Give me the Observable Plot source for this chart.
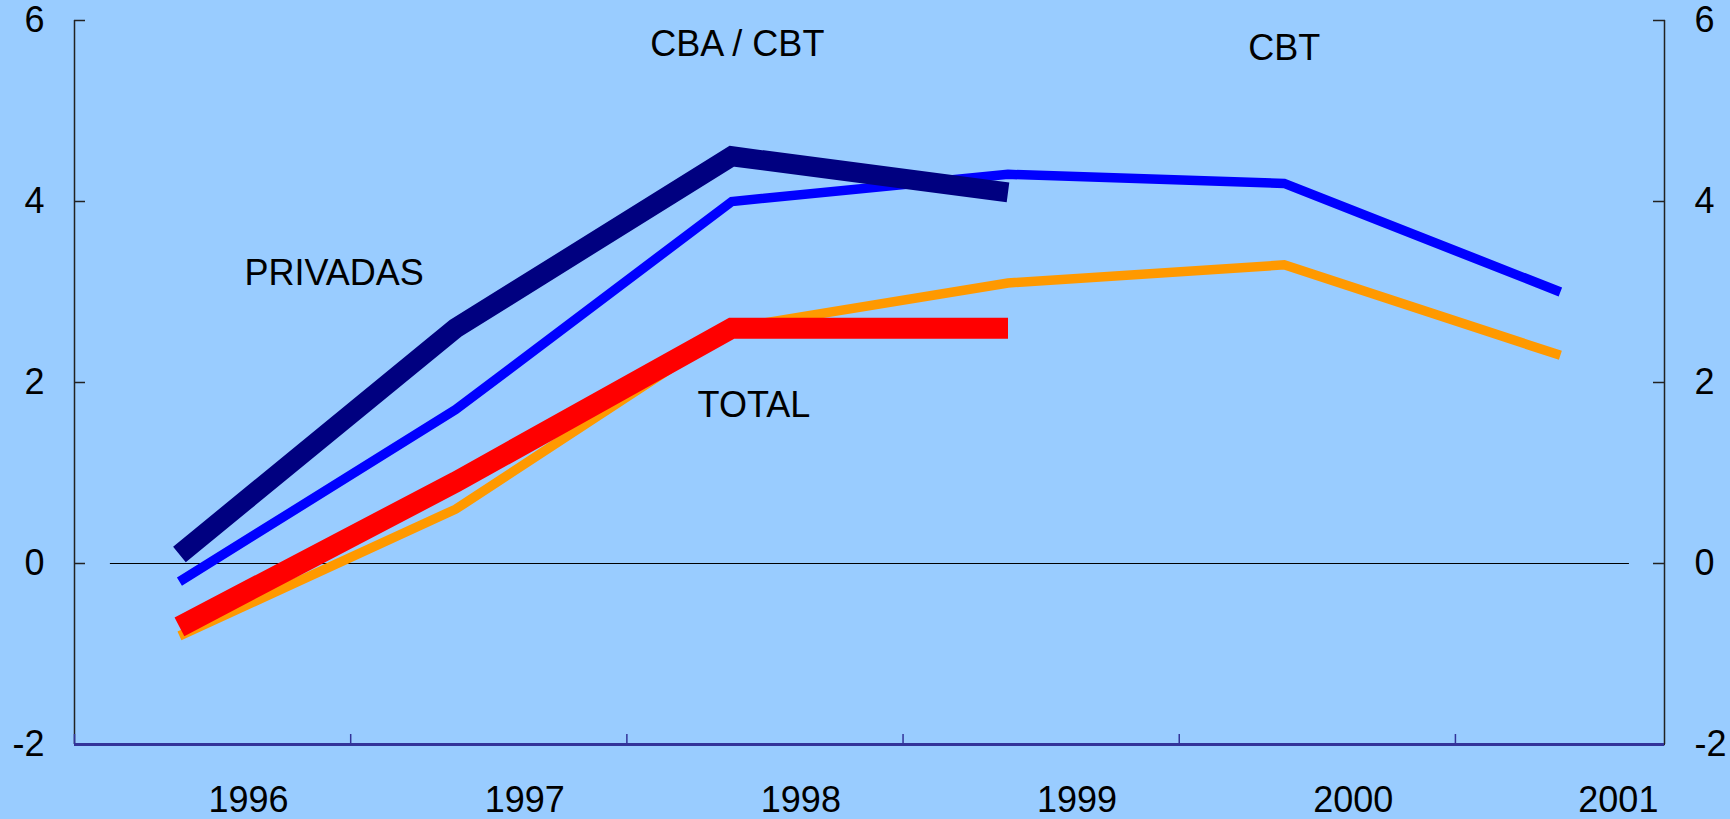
<!DOCTYPE html>
<html>
<head>
<meta charset="utf-8">
<script src="https://cdn.jsdelivr.net/npm/d3@7"></script>
<script src="https://cdn.jsdelivr.net/npm/@observablehq/plot@0.6"></script>
<style>
  html, body { margin: 0; padding: 0; background: #99CCFF; }
  #chart { width: 1730px; height: 819px; }
</style>
</head>
<body>
<div id="chart"></div>
<script>
// ---- data ----
const years = [1996, 1997, 1998, 1999, 2000, 2001];
const privadasCBA = [0.1, 2.6, 4.5, 4.1];          // navy, thick (PRIVADAS)
const totalCBA    = [-0.7, 0.9, 2.6, 2.6];         // red, thick (TOTAL)
const privadasCBT = [-0.2, 1.7, 4.0, 4.3, 4.2, 3.0]; // blue
const totalCBT    = [-0.8, 0.6, 2.6, 3.1, 3.3, 2.3]; // orange
const yTicks = [-2, 0, 2, 4, 6];
const xTickMarks = [1995.62, 1996.62, 1997.62, 1998.62, 1999.62, 2000.62];
const yearLabelPos = [1996.25, 1997.25, 1998.25, 1999.25, 2000.25, 2001.21];
const annotationText = ["PRIVADAS", "TOTAL", "CBA / CBT", "CBT"];
const annotationX = [1996.56, 1998.08, 1998.02, 2000.0];
const annotationY = [3.2, 1.75, 5.73, 5.69];

// ---- layout ----
const xDomain = [1995.62, 2001.377];
const zeroSpan = [1995.75, 2001.25];

const toRows = (vals) => vals.map((v, i) => ({year: years[i], value: v}));
const annotations = annotationText.map((t, i) => ({text: t, x: annotationX[i], y: annotationY[i]}));
const yearLabels = years.map((yr, i) => ({label: String(yr), x: yearLabelPos[i]}));

const lineOpts = {x: "year", y: "value", strokeLinejoin: "miter", strokeLinecap: "butt", strokeMiterlimit: 10};

const chart = Plot.plot({
  width: 1730,
  height: 819,
  marginLeft: 74,
  marginRight: 66,
  marginTop: 20,
  marginBottom: 75,
  style: {background: "#99CCFF", fontFamily: "'Liberation Sans', Arial, sans-serif", fontSize: "36px", color: "#000"},
  x: {type: "linear", domain: xDomain},
  y: {domain: [-2, 6]},
  marks: [
    // zero line
    Plot.ruleY([0], {x1: zeroSpan[0], x2: zeroSpan[1], stroke: "#000", strokeWidth: 1}),
    // vertical axis lines
    Plot.ruleX(xDomain, {stroke: "#222", strokeWidth: 1.5}),
    // left axis
    Plot.axisY({anchor: "left", ticks: yTicks, tickSize: -11, tickFormat: () => "", stroke: "#222", strokeWidth: 1.5, label: null}),
    Plot.axisY({anchor: "left", ticks: yTicks, tickSize: 0, tickPadding: 30, tickFormat: d => String(d), fill: "#000", label: null}),
    // right axis
    Plot.axisY({anchor: "right", ticks: yTicks, tickSize: -12, tickFormat: () => "", stroke: "#222", strokeWidth: 1.5, label: null}),
    Plot.axisY({anchor: "right", ticks: yTicks, tickSize: 0, tickPadding: 30, tickFormat: d => String(d), fill: "#000", label: null}),
    // bottom axis
    Plot.ruleY([-2], {stroke: "#333399", strokeWidth: 3}),
    Plot.axisX({anchor: "bottom", ticks: xTickMarks, tickSize: -10, tickFormat: () => "", stroke: "#333399", strokeWidth: 1.5, label: null}),
    Plot.text(yearLabels, {x: "x", text: "label", frameAnchor: "bottom", lineAnchor: "top", dy: 42, fill: "#000", fontSize: 36, textAnchor: "middle"}),
    // series
    Plot.line(toRows(totalCBT), {...lineOpts, stroke: "#FF9900", strokeWidth: 9.5}),
    Plot.line(toRows(privadasCBT), {...lineOpts, stroke: "#0000FF", strokeWidth: 9.5}),
    Plot.line(toRows(totalCBA), {...lineOpts, stroke: "#FF0000", strokeWidth: 21}),
    Plot.line(toRows(privadasCBA), {...lineOpts, stroke: "#000080", strokeWidth: 20}),
    // annotations
    Plot.text(annotations, {x: "x", y: "y", text: "text", fill: "#000", fontSize: 36, textAnchor: "middle"})
  ]
});
document.getElementById("chart").appendChild(chart);
</script>
</body>
</html>
